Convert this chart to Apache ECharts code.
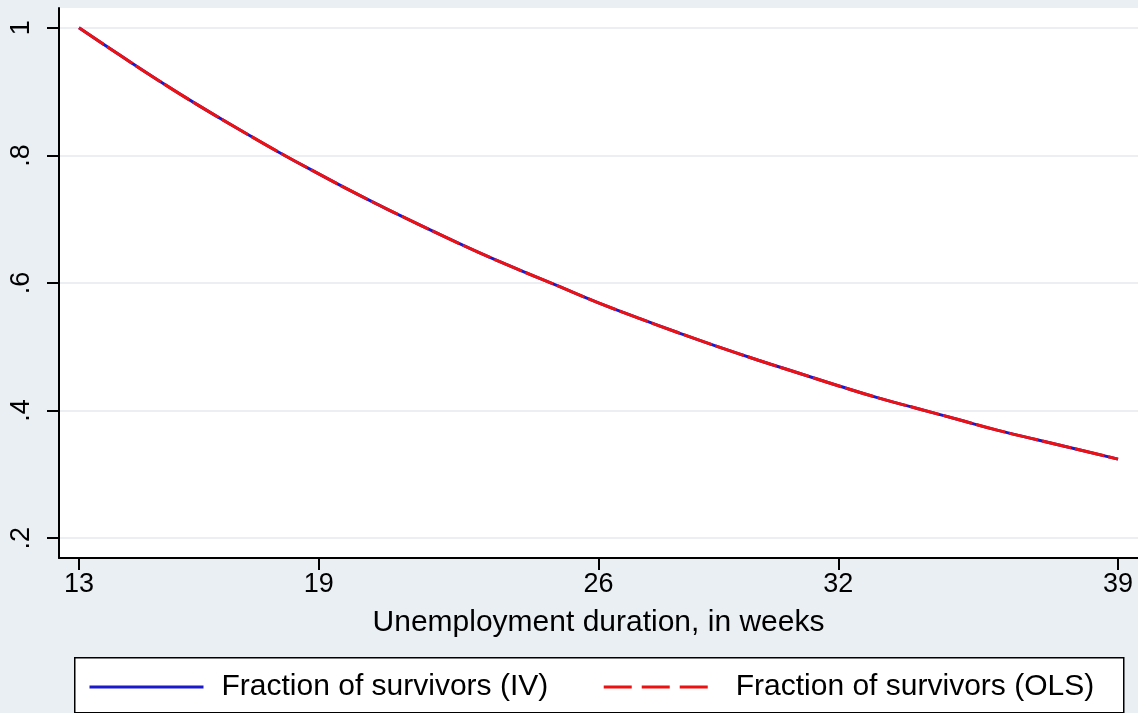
<!DOCTYPE html>
<html>
<head>
<meta charset="utf-8">
<script src="https://cdn.jsdelivr.net/npm/echarts@6/dist/echarts.min.js"></script>
<style>
html,body{margin:0;padding:0;background:#e9eff3;}
#chart{width:1138px;height:713px;}
</style>
</head>
<body>
<div id="chart"></div>
<script>
const weeks = [13,14,15,16,17,18,19,20,21,22,23,24,25,26,27,28,29,30,31,32,33,34,35,36,37,38,39];
const survivorsIV = [1.000,0.958,0.917,0.878,0.841,0.805,0.771,0.738,0.707,0.677,0.648,0.621,0.595,0.569,0.545,0.522,0.500,0.479,0.459,0.439,0.420,0.403,0.386,0.369,0.354,0.339,0.324];
const survivorsOLS = [1.000,0.958,0.917,0.878,0.841,0.805,0.771,0.738,0.707,0.677,0.648,0.621,0.595,0.569,0.545,0.522,0.500,0.479,0.459,0.439,0.420,0.403,0.386,0.369,0.354,0.339,0.324];
const xTicks = [13,19,26,32,39];
const yTicks = [0.2,0.4,0.6,0.8,1];
const seriesNames = ['Fraction of survivors (IV)','Fraction of survivors (OLS)'];
const xTitle = 'Unemployment duration, in weeks';

const FONT = '"Liberation Sans", Arial, sans-serif';
const chart = echarts.init(document.getElementById('chart'), null, {renderer:'canvas'});
const fmtY = v => {
  const r = Math.round(v*10)/10;
  if (r === 1) return '1';
  return ('' + r).replace(/^0/, '');
};
chart.setOption({
  backgroundColor: '#e9eff3',
  animation: false,
  textStyle: {fontFamily: FONT},
  grid: {left: 59, top: 8, right: 0, bottom: 155, show: true, backgroundColor: '#ffffff', borderWidth: 0},
  graphic: [{
    type: 'rect', left: 74, top: 657, shape: {width: 1049, height: 55},
    style: {fill: '#ffffff', stroke: '#000000', lineWidth: 1.5}, z: 0, zlevel: 0
  }],
  legend: {
    left: 88, top: 672, padding: 0, itemWidth: 114, itemHeight: 14, itemGap: 54,
    textStyle: {fontFamily: FONT, fontSize: 30, color: '#000', padding: [0, 0, 0, 13]},
    z: 20,
    data: [
      {name: seriesNames[0], itemStyle: {opacity: 0}, lineStyle: {color: '#1a1acc', width: 3, type: 'solid'}},
      {name: seriesNames[1], itemStyle: {opacity: 0}, lineStyle: {color: '#ee1111', width: 3, type: [28, 10]}}
    ]
  },
  xAxis: {
    type: 'value', min: 12.5, max: 39.5,
    axisLine: {lineStyle: {color: '#000', width: 2}},
    axisTick: {show: true, length: 12, lineStyle: {color: '#000', width: 2}, customValues: xTicks},
    axisLabel: {customValues: xTicks, fontSize: 27, color: '#000', margin: 13, fontFamily: FONT},
    splitLine: {show: false},
    name: xTitle, nameLocation: 'middle', nameGap: 50,
    nameTextStyle: {fontSize: 30, color: '#000', fontFamily: FONT}
  },
  yAxis: {
    type: 'value', min: 0.169, max: 1.031,
    axisLine: {show: true, lineStyle: {color: '#000', width: 2}},
    axisTick: {show: true, length: 12, lineStyle: {color: '#000', width: 2}, customValues: yTicks},
    axisLabel: {customValues: yTicks, fontSize: 27, color: '#000', rotate: 90, margin: 24, formatter: fmtY, fontFamily: FONT},
    splitLine: {show: true, lineStyle: {color: '#eceff1', width: 2}}
  },
  series: [
    {
      name: seriesNames[0], type: 'line', symbol: 'none', smooth: true,
      data: weeks.map((w,i) => [w, survivorsIV[i]]),
      lineStyle: {color: '#1a1acc', width: 3}, itemStyle: {color: '#1a1acc'}, z: 2
    },
    {
      name: seriesNames[1], type: 'line', symbol: 'none', smooth: true,
      data: weeks.map((w,i) => [w, survivorsOLS[i]]),
      lineStyle: {color: '#ee1111', width: 3, type: [30, 4]}, itemStyle: {color: '#ee1111'}, z: 3
    }
  ]
});
</script>
</body>
</html>
